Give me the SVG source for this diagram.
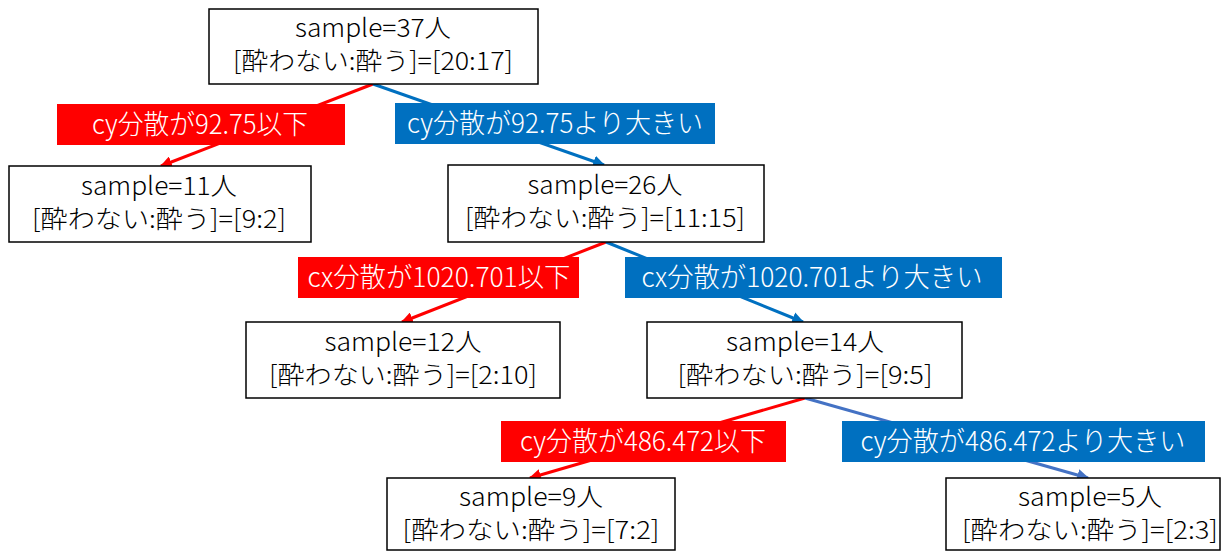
<svg xmlns="http://www.w3.org/2000/svg" width="1231" height="552" viewBox="0 0 1231 552">
  <style>
    .box { fill: #ffffff; stroke: #000000; stroke-width: 1.5; }
    .nt { font-family: "Noto Sans CJK JP", "Noto Sans", sans-serif; font-size: 25px; font-weight: 300; fill: #000000; text-anchor: middle; }
    .lt { font-family: "Noto Sans CJK JP", "Noto Sans", sans-serif; font-size: 27px; font-weight: 300; fill: #ffffff; text-anchor: middle; }
    .red { fill: #ff0000; }
    .blue { fill: #0070c0; }
    .er { stroke: #ff0000; stroke-width: 3; fill: none; marker-end: url(#ahR); }
    .eb { stroke: #0070c0; stroke-width: 3; fill: none; marker-end: url(#ahB); }
    .el { stroke: #4472c4; stroke-width: 3; fill: none; marker-end: url(#ahL); }
  </style>
  <defs>
    <marker id="ahR" viewBox="0 0 10 10" refX="9" refY="5" markerWidth="4" markerHeight="4" orient="auto" markerUnits="strokeWidth">
      <path d="M0,0 L10,5 L0,10 z" fill="#ff0000"/>
    </marker>
    <marker id="ahB" viewBox="0 0 10 10" refX="9" refY="5" markerWidth="4" markerHeight="4" orient="auto" markerUnits="strokeWidth">
      <path d="M0,0 L10,5 L0,10 z" fill="#0070c0"/>
    </marker>
    <marker id="ahL" viewBox="0 0 10 10" refX="9" refY="5" markerWidth="4" markerHeight="4" orient="auto" markerUnits="strokeWidth">
      <path d="M0,0 L10,5 L0,10 z" fill="#4472c4"/>
    </marker>
  </defs>

  <!-- connectors (drawn first so labels sit over them) -->
  <g id="edges">
    <line class="er" x1="373" y1="84" x2="161" y2="166"/>
    <line class="eb" x1="373" y1="84" x2="604" y2="165"/>
    <line class="er" x1="606" y1="242" x2="402" y2="322"/>
    <line class="eb" x1="606" y1="242" x2="803" y2="322"/>
    <line class="er" x1="805" y1="398" x2="530" y2="478"/>
    <line class="el" x1="805" y1="398" x2="1088" y2="478"/>
  </g>

  <!-- split labels -->
  <g id="label-root-left">
    <rect class="red" x="57" y="104" width="288" height="41"/>
    <text class="lt" x="200" y="134" textLength="216" lengthAdjust="spacingAndGlyphs">cy分散が92.75以下</text>
  </g>
  <g id="label-root-right">
    <rect class="blue" x="395" y="103" width="320" height="41"/>
    <text class="lt" x="555" y="133" textLength="296" lengthAdjust="spacingAndGlyphs">cy分散が92.75より大きい</text>
  </g>
  <g id="label-n26-left">
    <rect class="red" x="298" y="257" width="281" height="41"/>
    <text class="lt" x="439" y="287" textLength="263" lengthAdjust="spacingAndGlyphs">cx分散が1020.701以下</text>
  </g>
  <g id="label-n26-right">
    <rect class="blue" x="625" y="257" width="377" height="41"/>
    <text class="lt" x="812" y="287" textLength="341" lengthAdjust="spacingAndGlyphs">cx分散が1020.701より大きい</text>
  </g>
  <g id="label-n14-left">
    <rect class="red" x="501" y="421" width="285" height="41"/>
    <text class="lt" x="643" y="451" textLength="246" lengthAdjust="spacingAndGlyphs">cy分散が486.472以下</text>
  </g>
  <g id="label-n14-right">
    <rect class="blue" x="842" y="421" width="363" height="41"/>
    <text class="lt" x="1023" y="451" textLength="325" lengthAdjust="spacingAndGlyphs">cy分散が486.472より大きい</text>
  </g>

  <!-- tree nodes -->
  <g id="node-root">
    <rect class="box" x="209" y="9" width="329" height="75"/>
    <text class="nt" x="373" y="37" textLength="156" lengthAdjust="spacingAndGlyphs">sample=37人</text>
    <text class="nt" x="373" y="70" textLength="280" lengthAdjust="spacingAndGlyphs">[酔わない:酔う]=[20:17]</text>
  </g>
  <g id="node-11">
    <rect class="box" x="9" y="166" width="302" height="76"/>
    <text class="nt" x="159" y="195" textLength="156" lengthAdjust="spacingAndGlyphs">sample=11人</text>
    <text class="nt" x="159" y="228" textLength="254" lengthAdjust="spacingAndGlyphs">[酔わない:酔う]=[9:2]</text>
  </g>
  <g id="node-26">
    <rect class="box" x="448" y="165" width="316" height="77"/>
    <text class="nt" x="605" y="194" textLength="155" lengthAdjust="spacingAndGlyphs">sample=26人</text>
    <text class="nt" x="605" y="227" textLength="280" lengthAdjust="spacingAndGlyphs">[酔わない:酔う]=[11:15]</text>
  </g>
  <g id="node-12">
    <rect class="box" x="246" y="322" width="314" height="76"/>
    <text class="nt" x="403" y="351" textLength="157" lengthAdjust="spacingAndGlyphs">sample=12人</text>
    <text class="nt" x="403" y="384" textLength="268" lengthAdjust="spacingAndGlyphs">[酔わない:酔う]=[2:10]</text>
  </g>
  <g id="node-14">
    <rect class="box" x="647" y="322" width="315" height="76"/>
    <text class="nt" x="805" y="351" textLength="158" lengthAdjust="spacingAndGlyphs">sample=14人</text>
    <text class="nt" x="805" y="384" textLength="255" lengthAdjust="spacingAndGlyphs">[酔わない:酔う]=[9:5]</text>
  </g>
  <g id="node-9">
    <rect class="box" x="387" y="478" width="288" height="72"/>
    <text class="nt" x="531" y="506" textLength="144" lengthAdjust="spacingAndGlyphs">sample=9人</text>
    <text class="nt" x="531" y="539" textLength="257" lengthAdjust="spacingAndGlyphs">[酔わない:酔う]=[7:2]</text>
  </g>
  <g id="node-5">
    <rect class="box" x="946" y="478" width="274" height="72"/>
    <text class="nt" x="1090" y="506" textLength="144" lengthAdjust="spacingAndGlyphs">sample=5人</text>
    <text class="nt" x="1090" y="539" textLength="256" lengthAdjust="spacingAndGlyphs">[酔わない:酔う]=[2:3]</text>
  </g>
</svg>
